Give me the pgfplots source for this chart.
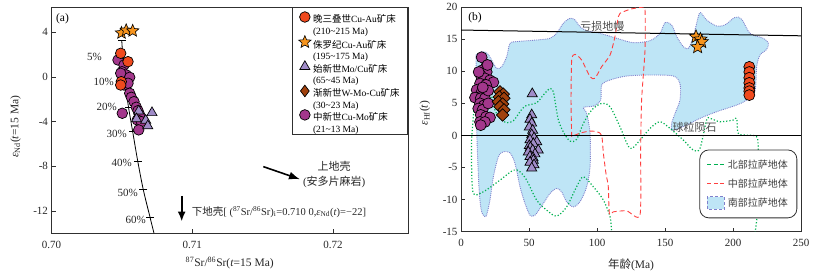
\documentclass[border=0pt]{standalone}
\usepackage{pgfplots}
\pgfplotsset{compat=1.18}
\usetikzlibrary{arrows.meta}
\usepackage{fontspec}
\setmainfont{Liberation Serif}
\newfontfamily\cjk{Noto Sans CJK SC}
\newcommand{\zh}[1]{{\cjk #1}}
\definecolor{cRed}{HTML}{F04A1E}
\definecolor{cStar}{HTML}{F7941D}
\definecolor{cTri}{HTML}{A08CC8}
\definecolor{cDia}{HTML}{A0410D}
\definecolor{cPur}{HTML}{A3378C}
\definecolor{cBlue}{HTML}{BEE5F6}
\definecolor{cBlueEdge}{HTML}{8080CC}
\definecolor{cGreen}{HTML}{00B050}
\definecolor{cRedLine}{HTML}{FF4040}
\definecolor{axc}{HTML}{303030}
\pgfdeclareplotmark{fstar}{%
  \pgfpathmoveto{\pgfpointpolar{90}{\pgfplotmarksize}}%
  \pgfpathlineto{\pgfpointpolar{126}{0.45\pgfplotmarksize}}%
  \pgfpathlineto{\pgfpointpolar{162}{\pgfplotmarksize}}%
  \pgfpathlineto{\pgfpointpolar{198}{0.45\pgfplotmarksize}}%
  \pgfpathlineto{\pgfpointpolar{234}{\pgfplotmarksize}}%
  \pgfpathlineto{\pgfpointpolar{270}{0.45\pgfplotmarksize}}%
  \pgfpathlineto{\pgfpointpolar{306}{\pgfplotmarksize}}%
  \pgfpathlineto{\pgfpointpolar{342}{0.45\pgfplotmarksize}}%
  \pgfpathlineto{\pgfpointpolar{18}{\pgfplotmarksize}}%
  \pgfpathlineto{\pgfpointpolar{54}{0.45\pgfplotmarksize}}%
  \pgfpathclose
  \pgfusepathqfillstroke
}
\pgfplotsset{
  common/.style={
    scale only axis, anchor=south west,
    tick pos=left, tick align=inside, major tick length=4pt,
    axis line style={axc, line width=0.9pt},
    tick style={axc, line width=0.8pt},
    tick label style={font=\fontsize{11}{13}\selectfont, text=black!85},
    xticklabel style={yshift=-4pt},
    /pgf/number format/assume math mode=true,
    label style={font=\fontsize{11.5}{13}\selectfont, text=black!85},
  },
  boxlegend/.style={legend image code/.code={\draw[##1, sharp corners] (0cm,-0.22cm) rectangle (0.6cm,0.22cm);}},
  linelegend/.style={legend image code/.code={\draw[##1, sharp corners] (0cm,0cm) -- (0.63cm,0cm);}},
}
\begin{document}
\begin{tikzpicture}
\path[use as bounding box] (0,0) rectangle (817pt,276pt);

% ---------------- Panel (a) ----------------
\begin{axis}[common,
  at={(51.5pt,42.7pt)}, width=356.5pt, height=226pt,
  xmin=0.70, xmax=0.72532, ymin=-14, ymax=6.24,
  xtick={0.70,0.71,0.72}, xticklabels={0.70,0.71,0.72},
  ytick={-12,-8,-4,0,4},
  xlabel={\textsuperscript{87}Sr/\textsuperscript{86}Sr(\textit{t}=15 Ma)},
  ylabel={\textit{ε}\textsubscript{Nd}(\textit{t}=15 Ma)},
  xlabel style={at={(axis description cs:0.5,-0.131)}, anchor=center},
  ylabel style={at={(axis description cs:-0.101,0.472)}, anchor=center},
  legend style={at={(rel axis cs:1,1)}, anchor=north east, draw=axc, line width=0.8pt, fill=white,
    inner xsep=6pt, inner ysep=4pt, row sep=3.5pt, font=\fontsize{9.5}{11.5}\selectfont, cells={anchor=west}},
  legend image code/.code={\draw[mark repeat=2,mark phase=2,#1] plot coordinates {(0cm,5.5pt) (0.25cm,5.5pt) (0.5cm,5.5pt)};},
]
% mixing curve
\addplot[black, line width=0.8pt, smooth, forget plot] coordinates {
(0.704986,3.30) (0.705078,1.70) (0.705220,-0.42) (0.705469,-2.70) (0.705767,-4.90)
(0.706122,-7.52) (0.706520,-10.10) (0.706996,-12.55) (0.707280,-14.0)};
\addplot[only marks, mark=-, mark size=4pt, black, mark options={line width=0.8pt}, forget plot] coordinates {
(0.704986,3.30) (0.705078,1.70) (0.705220,-0.42) (0.705469,-2.70) (0.705767,-4.90)
(0.706122,-7.52) (0.706520,-10.10) (0.706996,-12.55)};
% Miocene Cu-Mo (purple circles)
\addplot[only marks, mark=*, mark size=5.3pt, mark options={fill=cPur, draw=black, line width=0.7pt}, forget plot] coordinates {
(0.704723,1.52) (0.705149,1.07) (0.705007,0.47) (0.705312,0.18) (0.704915,0.33) (0.705554,-0.03)
(0.705149,-0.72) (0.705433,-0.56) (0.705554,-1.46) (0.705668,-1.82) (0.705859,-2.21)
(0.706023,-2.71) (0.706143,-3.02) (0.705028,-3.25) (0.706264,-3.40) (0.706094,-3.85)
(0.706378,-4.00) (0.706193,-4.74)};
% Eocene Mo/Cu (triangles)
\addplot[only marks, mark=triangle*, mark size=5.8pt, mark options={fill=cTri, draw=black, line width=0.7pt}, forget plot] coordinates {
(0.706193,-3.05) (0.707138,-3.20) (0.706037,-3.75) (0.706690,-3.88) (0.706839,-4.38)};
% Late Triassic (red circles)
\addplot[only marks, mark=*, mark size=5.3pt, mark options={fill=cRed, draw=black, line width=0.7pt}, forget plot] coordinates {
(0.704915,2.12) (0.705433,1.37) (0.704957,-0.42) (0.704915,-0.72)};
% Jurassic (stars)
\addplot[only marks, mark=fstar, mark size=6.5pt, mark options={fill=cStar, draw=black, line width=0.6pt}, forget plot] coordinates {
(0.704972,3.94) (0.705305,4.18) (0.705767,4.13)};

\addlegendimage{only marks, mark=*, mark size=5.3pt, mark options={fill=cRed, draw=black, line width=0.7pt}}
\addlegendentry{\begin{tabular}{@{}l@{}}\zh{晚三叠世}Cu-Au\zh{矿床}\\(210\textasciitilde215 Ma)\end{tabular}}
\addlegendimage{only marks, mark=fstar, mark size=6.5pt, mark options={fill=cStar, draw=black, line width=0.6pt}}
\addlegendentry{\begin{tabular}{@{}l@{}}\zh{侏罗纪}Cu-Au\zh{矿床}\\(195\textasciitilde175 Ma)\end{tabular}}
\addlegendimage{only marks, mark=triangle*, mark size=5.8pt, mark options={fill=cTri, draw=black, line width=0.7pt}}
\addlegendentry{\begin{tabular}{@{}l@{}}\zh{始新世}Mo/Cu\zh{矿床}\\(65\textasciitilde45 Ma)\end{tabular}}
\addlegendimage{only marks, mark=diamond*, mark size=5.8pt, mark options={fill=cDia, draw=black, line width=0.7pt}}
\addlegendentry{\begin{tabular}{@{}l@{}}\zh{渐新世}W-Mo-Cu\zh{矿床}\\(30\textasciitilde23 Ma)\end{tabular}}
\addlegendimage{only marks, mark=*, mark size=5.3pt, mark options={fill=cPur, draw=black, line width=0.7pt}}
\addlegendentry{\begin{tabular}{@{}l@{}}\zh{中新世}Cu-Mo\zh{矿床}\\(21\textasciitilde13 Ma)\end{tabular}}

% annotations
\node[font=\fontsize{11.5}{13}\selectfont] at (axis cs:0.700781,5.25) {(a)};
\begin{scope}[every node/.style={anchor=east, font=\fontsize{11}{13}\selectfont, text=black!85, inner sep=1pt}]
\node at (axis cs:0.703658,1.76) {5\%};
\node at (axis cs:0.704510,-0.42) {10\%};
\node at (axis cs:0.704723,-2.71) {20\%};
\node at (axis cs:0.705433,-5.10) {30\%};
\node at (axis cs:0.705788,-7.70) {40\%};
\node at (axis cs:0.706214,-10.40) {50\%};
\node at (axis cs:0.706783,-12.80) {60\%};
\end{scope}
\node[align=center, font=\fontsize{11}{15}\selectfont, text=black!85] at (axis cs:0.72008,-8.70) {\zh{上地壳}\\(\zh{安多片麻岩})};
\draw[-{Latex[length=11pt,width=8pt]}, line width=1.6pt, black] (axis cs:0.715043,-8.03) -- (axis cs:0.717649,-9.16);
\draw[-{Latex[length=10pt,width=8pt]}, line width=2.2pt, black] (axis cs:0.709247,-10.65) -- (axis cs:0.709247,-12.95);
\node[anchor=west, font=\fontsize{10.5}{12}\selectfont, text=black!85, inner sep=0pt] at (axis cs:0.70996,-12.08)
  {\zh{下地壳}[ (\textsuperscript{87}Sr/\textsuperscript{86}Sr)\textsubscript{i}=0.710 0,\textit{ε}\textsubscript{Nd}(\textit{t})=−22]};
\end{axis}

% ---------------- Panel (b) ----------------
\begin{axis}[common,
  at={(461pt,44.5pt)}, width=340pt, height=224.2pt,
  xmin=0, xmax=250, ymin=-15, ymax=20,
  xtick={0,50,100,150,200,250}, ytick={-15,-10,-5,0,5,10,15,20},
  xlabel={\zh{年龄}(Ma)},
  ylabel={\textit{ε}\textsubscript{Hf}(\textit{t})},
  xlabel style={at={(axis description cs:0.5,-0.15)}, anchor=center},
  ylabel style={at={(axis description cs:-0.106,0.528)}, anchor=center},
  legend style={at={(rel axis cs:0.989,0.059)}, anchor=south east, draw=axc, line width=0.8pt,
    rounded corners=9pt, fill=white, inner xsep=7pt, inner ysep=8pt, row sep=5pt,
    font=\fontsize{10}{12}\selectfont, cells={anchor=west}},
]
% South Lhasa field
\addplot[fill=cBlue, draw=cBlueEdge, densely dotted, line width=0.9pt, smooth, forget plot] coordinates {
(11.0,12.55) (15.2,13.07) (19.4,12.81) (22.5,11.77) (26.2,10.47) (29.9,10.73) (33.6,12.29) (36.0,14.38)
(40.9,14.64) (55.6,14.90) (65.4,15.16) (70.3,15.94) (75.2,17.5) (80.1,18.28) (83.8,18.02) (87.5,16.98)
(92.4,16.35) (102.2,15.94) (114.5,15.16) (126.7,14.48) (139.0,14.79) (146.3,15.94) (150.0,17.6)
(154.9,17.24) (158.6,15.42) (163.5,13.85) (167.2,13.59) (170.8,15.42) (174.5,18.54) (176.2,19.17)
(180.6,18.02) (188.0,17.08) (194.1,17.24) (201.5,18.44) (206.4,18.13) (212.5,15.94) (222.3,15.16)
(226.0,14.38) (224.8,13.44) (219.9,12.55) (217.4,10.73) (216.2,7.08) (210.0,5.52) (202.7,4.74)
(188.0,3.70) (175.7,2.66) (165.9,1.61) (155.6,0.83) (154.9,1.88) (157.4,3.44) (161.0,5.52)
(161.0,8.13) (156.1,9.27) (139.0,9.43) (121.8,9.27) (109.6,8.65) (103.4,7.86) (102.7,5.52)
(97.3,4.58) (90.0,4.38) (92.4,3.44) (94.9,0.31) (94.9,-4.9) (92.4,-8.02) (87.5,-10.36)
(82.6,-11.15) (77.7,-10.36) (74.0,-8.80) (70.3,-8.28) (65.4,-9.06) (60.5,-10.63) (54.4,-12.45)
(50.7,-12.45) (47.1,-10.63) (43.4,-8.02) (39.7,-4.38) (36.0,-2.71) (31.1,-2.55) (27.5,-3.33)
(23.8,-6.46) (21.3,-10.1) (18.4,-12.6) (15.2,-11.93) (13.5,-9.06) (12.3,-3.85) (11.5,1.35)
(11.3,6.56) (11.0,12.55)};
% North Lhasa field
\addplot[cGreen, dotted, line width=1.2pt, smooth, forget plot] coordinates {
(110.8,-15.3) (109.6,-12.71) (104.7,-10.1) (97.3,-8.02) (90.0,-6.46) (85.0,-8.02) (77.7,-11.15)
(70.3,-12.6) (63.0,-11.67) (55.6,-10.1) (48.3,-6.98) (43.4,-5.68) (38.5,-5.42) (28.7,-6.98)
(16.4,-8.8) (9.1,-9.06) (7.8,-4.9) (7.8,-0.73) (9.1,2.92) (10.3,4.48) (16.4,5.52) (22.5,6.04)
(25.0,3.96) (28.7,2.66) (33.6,1.98) (38.5,2.29) (43.4,3.70) (47.1,4.58) (55.6,5.10) (60.5,6.30)
(65.4,7.34) (67.9,6.82) (69.4,5.0) (71.6,2.40) (75.2,0.57) (80.1,-0.89) (85.0,-0.63) (90.0,1.88)
(96.1,3.96) (103.4,5.0) (109.6,4.48) (116.9,1.35) (124.3,-2.03) (131.6,-0.73) (139.0,1.09)
(146.3,2.14) (153.7,1.09) (163.5,-0.73) (170.8,-2.29) (175.7,-2.03) (180.6,2.40) (183.1,2.66)
(190.4,2.14) (200.2,2.40) (202.7,2.66) (203.9,0.31) (210.0,0.05) (217.4,-0.21) (218.6,-2.29)
(218.6,-10.1) (217.4,-13.23) (216.2,-15.3)};
% Central Lhasa field
\addplot[cRedLine, dash pattern=on 5pt off 3pt, line width=0.9pt, smooth, tension=0.4, forget plot] coordinates {
(81.4,-0.21) (80.9,5.52) (81.4,11.77) (83.8,12.66) (88.7,11.77) (94.9,9.17) (98.5,8.91) (103.4,10.73)
(109.6,12.55) (113.2,15.42) (115.7,18.54) (116.9,19.06) (124.3,19.69) (132.8,20.0) (135.3,19.58)
(135.3,13.33) (132.8,5.52) (132.1,-2.29) (131.6,-12.45) (121.8,-11.77) (112.0,-11.93) (109.1,-12.19)
(108.3,-8.02) (106.6,-5.94) (104.7,-2.81) (103.4,0.05) (99.8,0.57) (94.9,0.68) (88.7,0.42)
(83.8,0.05) (81.4,-0.21)};
% reference lines
\addplot[black, line width=1pt, forget plot] coordinates {(0,16.45) (250,15.55)};
\addplot[black, line width=1pt, forget plot] coordinates {(0,0) (250,0)};
% Miocene Cu-Mo
\addplot[only marks, mark=*, mark size=5.5pt, mark options={fill=cPur, draw=black, line width=0.7pt}, forget plot] coordinates {
(15.2,12.2) (18.4,10.7) (15.9,10.2) (18.9,9.9) (14.5,9.4) (17.6,8.9) (21.3,8.6) (23.8,8.3) (14.0,8.1)
(18.4,7.9) (11.5,7.1) (15.2,6.8) (11.5,5.9) (10.3,5.9) (14.5,5.8) (17.6,5.8) (14.0,5.0) (16.9,4.7)
(12.7,4.2) (15.9,4.0) (14.5,3.2) (18.4,2.9) (21.3,2.8) (14.0,2.1) (17.6,2.1) (14.5,1.6) (19.5,11.0)
(20.0,7.0) (13.0,9.9) (20.0,5.0) (16.0,7.5)};
% Oligocene W-Mo-Cu
\addplot[only marks, mark=square*, mark size=4.4pt, mark options={rotate=45, fill=cDia, draw=black, line width=0.7pt}, forget plot] coordinates {
(28.7,6.8) (31.1,6.45) (28.2,6.0) (31.6,5.8) (27.5,5.25) (30.6,4.9) (28.7,4.5) (31.6,4.0) (30.6,3.2)};
% Eocene Mo/Cu
\addplot[only marks, mark=triangle*, mark size=5.8pt, mark options={fill=cTri, draw=black, line width=0.7pt}, forget plot] coordinates {
(52.4,6.5) (52.0,3.2) (50.7,2.5) (52.0,1.9) (50.2,1.3) (52.7,0.8) (52.0,0.1) (53.7,-0.4) (50.7,-0.7)
(55.7,-1.0) (53.2,-1.3) (50.2,-1.6) (51.0,-1.9) (56.8,-2.3) (52.7,-2.3) (49.5,-2.6) (54.4,-2.9)
(50.7,-3.3) (53.0,-3.5) (53.2,-3.9) (50.7,-4.2) (53.7,-4.6) (52.0,-5.1)};
% Late Triassic
\addplot[only marks, mark=*, mark size=5.5pt, mark options={fill=cRed, draw=black, line width=0.7pt}, forget plot] coordinates {
(212,10.7) (212,9.9) (212,9.0) (212,8.2) (212,7.4) (212,6.9) (212,6.3)};
% Jurassic
\addplot[only marks, mark=fstar, mark size=7pt, mark options={fill=cStar, draw=black, line width=0.6pt}, forget plot] coordinates {
(172.8,15.4) (176.0,15.0) (177.0,14.6) (174.0,13.8)};

\addlegendimage{linelegend, cGreen, solid, dash pattern=on 4pt off 2.5pt, line width=1.1pt}
\addlegendentry{\textcolor{black!75}{\zh{北部拉萨地体}}}
\addlegendimage{linelegend, cRedLine, solid, dash pattern=on 4pt off 2.5pt, line width=1.1pt}
\addlegendentry{\textcolor{black!75}{\zh{中部拉萨地体}}}
\addlegendimage{boxlegend, fill=cBlue, draw=cBlueEdge, dash pattern=on 3pt off 2pt, line width=1pt}
\addlegendentry{\textcolor{black!75}{\zh{南部拉萨地体}}}

\node[font=\fontsize{11.5}{13}\selectfont] at (axis cs:10.3,18.4) {(b)};
\node[font=\fontsize{11}{13}\selectfont, text=black!70] at (axis cs:104,17.1) {\zh{亏损地幔}};
\node[font=\fontsize{11}{13}\selectfont, text=black!70] at (axis cs:171.7,1.2) {\zh{球粒陨石}};
\end{axis}
\end{tikzpicture}
\end{document}
